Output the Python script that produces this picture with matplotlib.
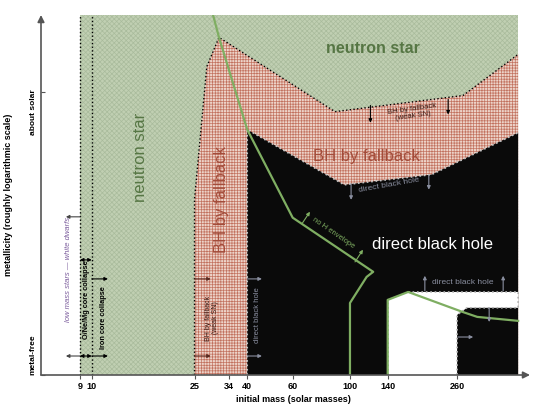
import numpy as np
import matplotlib.pyplot as plt

plt.rcParams['font.family'] = ['Liberation Sans', 'DejaVu Sans']
plt.rcParams['hatch.linewidth'] = 0.5

# region boundaries: initial mass (solar masses) vs metallicity index
# (0 = metal-free, 1 = about solar)
m_lo, m_hi, z_top = 9, 448, 1.27
ns_mass = [m_lo, m_hi, m_hi, m_lo]
ns_z = [0, 0, z_top, z_top]

fallback_mass = [25, 25, 27.9, 31.1, 87.5, 274, 448, 448]
fallback_z = [0, 0.62, 1.088, 1.191, 0.929, 0.986, 1.131, 0]

direct_mass = [40, 40, 95, 207, 448, 448]
direct_z = [0, 0.866, 0.671, 0.707, 0.855, 0]

pair_mass = [140, 140, 168, 448, 448, 284, 260, 260]
pair_z = [0, 0.265, 0.293, 0.293, 0.237, 0.237, 0.212, 0]

# "no H envelope" boundary lines
henv_mass = [29.5, 31.1, 40, 60, 123, 116, 100, 100]
henv_z = [1.27, 1.191, 0.866, 0.555, 0.364, 0.346, 0.254, 0]
henv2_mass = [140, 140, 168, 272, 311, 448]
henv2_z = [0, 0.265, 0.293, 0.223, 0.205, 0.191]

mass_ticks = [9, 10, 25, 34, 40, 60, 100, 140, 260]
z_ticks = [0, 1]
z_labels = ['metal-free', 'about solar']

fig = plt.figure(figsize=(5.4, 4.05), dpi=100)
ax = fig.add_axes([41/540, 30/405, 489/540, 360/405])
ax.set_xscale('log')
ax.set_xlim(6.36, 498)
ax.set_ylim(0, z_top)

green_txt = '#567644'
red_txt = '#a34c3a'
gray_txt = '#8a8fa0'
line_green = '#7fae62'

ax.fill(ns_mass, ns_z, facecolor='#c0cfb2', edgecolor='#a9bb9c', hatch='xxxxxxx', lw=0)
ax.fill(fallback_mass, fallback_z, facecolor='#edd3c9', edgecolor='#c2725f', hatch='++++++', lw=0)
ax.fill(direct_mass, direct_z, facecolor='#0a0a0a', lw=0)
ax.fill(pair_mass, pair_z, facecolor='white', lw=0)

# borders
ax.plot(fallback_mass[:-1], fallback_z[:-1], ls=':', color='black', lw=1)
ax.plot(direct_mass[:-1], direct_z[:-1], ls=':', color='#c8c8c8', lw=1.2)
ax.plot(pair_mass[2:], pair_z[2:], ls=':', color='#b0b0b0', lw=1.2)
ax.plot(pair_mass[:2], pair_z[:2], ls=':', color='#b0b0b0', lw=1.2)
for m in (9, 10):
    ax.plot([m, m], [0, z_top], ls=':', color='black', lw=1)

ax.plot(henv_mass, henv_z, color=line_green, lw=1.6)
ax.plot(henv2_mass, henv2_z, color=line_green, lw=1.6)


def arrow(tail, head, color='black', style='-|>'):
    ax.annotate('', xy=head, xytext=tail,
                arrowprops=dict(arrowstyle=style, color=color, lw=0.8,
                                mutation_scale=5, shrinkA=0, shrinkB=0))


# left-hand column arrows
for z in (0.558, 0.067):
    arrow((9, z), (7.94, z), color='#444444')
for z in (0.406, 0.067):
    arrow((9, z), (10, z), style='<|-|>')
for z in (0.339, 0.067):
    arrow((10, z), (11.55, z))
    arrow((25, z), (28.9, z), color='#5a2a20')
    arrow((40, z), (45.6, z), color=gray_txt)

# arrows in the upper part
arrow((120, 0.951), (120, 0.890))
arrow((240, 0.972), (240, 0.919))
arrow((101, 0.675), (101, 0.618), color=gray_txt)
arrow((202, 0.703), (202, 0.654), color=gray_txt)
arrow((65.2, 0.534), (70.0, 0.576), color=line_green)
arrow((104.6, 0.399), (112.3, 0.442), color=line_green)
arrow((195, 0.297), (195, 0.350), color=gray_txt)
arrow((392, 0.297), (392, 0.350), color=gray_txt)
arrow((346, 0.237), (346, 0.187), color=gray_txt)
arrow((262, 0.134), (300, 0.134), color=gray_txt)

# labels
ax.text(15.5, 0.767, 'neutron star', rotation=90, color=green_txt, fontsize=12,
        ha='center', va='center')
ax.text(123, 1.152, 'neutron star', color=green_txt, fontsize=11.5, fontweight='bold',
        ha='center', va='center')
ax.text(31.9, 0.618, 'BH by fallback', rotation=90, color=red_txt, fontsize=12,
        ha='center', va='center')
ax.text(116, 0.770, 'BH by fallback', color=red_txt, fontsize=12,
        ha='center', va='center')
ax.text(175, 0.926, 'BH by fallback\n(weak SN)', rotation=8, color='#3a1a14',
        fontsize=5.5, ha='center', va='center', linespacing=1.1)
ax.text(142, 0.668, 'direct black hole', rotation=10, color=gray_txt, fontsize=6,
        ha='center', va='center')
ax.text(86, 0.502, 'no H envelope', rotation=-34.5, color=line_green, fontsize=5.5,
        ha='center', va='center')
ax.text(208, 0.459, 'direct black hole', color='white', fontsize=12,
        ha='center', va='center')
ax.text(274, 0.325, 'direct black hole', color=gray_txt, fontsize=6,
        ha='center', va='center')
ax.text(8.16, 0.371, 'low mass stars \u2014 white dwarfs', rotation=90, color='#7b5c9c',
        fontsize=5.5, style='italic', ha='center', va='center')
ax.text(9.58, 0.265, 'O/Ne/Mg core collapse', rotation=90, fontsize=5.3,
        fontweight='bold', ha='center', va='center')
ax.text(11.15, 0.201, 'Iron core collapse', rotation=90, fontsize=5.3,
        fontweight='bold', ha='center', va='center')
ax.text(29.2, 0.201, 'BH by fallback\n(weak SN)', rotation=90, fontsize=5,
        color='#3a1a14', ha='center', va='center', linespacing=1.1)
ax.text(44, 0.212, 'direct black hole', rotation=90, fontsize=5.5, color=gray_txt,
        ha='center', va='center')

# axes with arrowheads
for s in ax.spines.values():
    s.set_visible(False)
ax.annotate('', xy=(1, 0), xytext=(0, 0), xycoords='axes fraction',
            arrowprops=dict(arrowstyle='-|>', color='#555555', lw=1.2,
                            mutation_scale=10, shrinkA=0, shrinkB=0))
ax.annotate('', xy=(0, 1), xytext=(0, 0), xycoords='axes fraction',
            arrowprops=dict(arrowstyle='-|>', color='#555555', lw=1.2,
                            mutation_scale=10, shrinkA=0, shrinkB=0))

ax.minorticks_off()
ax.set_xticks(mass_ticks)
ax.set_xticklabels([str(m) for m in mass_ticks], fontsize=6.5, fontweight='bold')
ax.set_yticks(z_ticks)
ax.set_yticklabels(z_labels, rotation=90, fontsize=6, fontweight='bold')
ax.get_yticklabels()[0].set_va('bottom')
ax.tick_params(axis='x', length=3, color='#555555', pad=2)
ax.tick_params(axis='y', direction='in', length=3, color='#555555', pad=3)
ax.set_xlabel('initial mass (solar masses)', fontsize=6.5, fontweight='bold', labelpad=4)
ax.xaxis.set_label_coords(0.517, -0.055)
ax.set_ylabel('metallicity (roughly logarithmic scale)', fontsize=6.5, fontweight='bold')
ax.yaxis.set_label_coords(-0.058, 0.5)

fig.savefig('out.png', dpi=100)
